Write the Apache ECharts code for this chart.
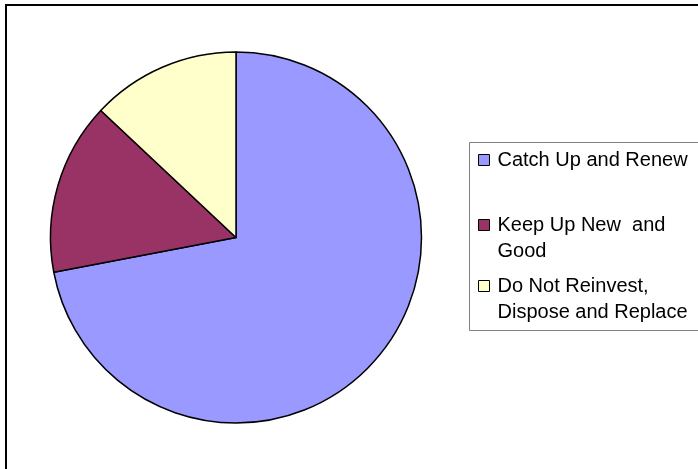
<!DOCTYPE html>
<html>
<head>
<meta charset="utf-8">
<title>Reinvestment strategy share</title>
<script src="https://cdn.jsdelivr.net/npm/echarts@6/dist/echarts.min.js"></script>
<style>
  html, body { margin: 0; padding: 0; background: #ffffff; }
  #chart { width: 698px; height: 469px; }
</style>
</head>
<body>
<div id="chart"></div>
<script>
// Strategy categories and their share of the portfolio (%)
const categories = ['Catch Up and Renew', 'Keep Up New and Good', 'Do Not Reinvest, Dispose and Replace'];
const shares = [72, 15, 13];
// Legend text as it wraps inside the legend box
const legendText = ['Catch Up and Renew', 'Keep Up New  and\nGood', 'Do Not Reinvest,\nDispose and Replace'];
const colors = ['#9999FF', '#993366', '#FFFFCC'];

const FONT = "'Liberation Sans', Arial, sans-serif";
const LH = 26;

const chart = echarts.init(document.getElementById('chart'), null, { renderer: 'canvas' });

// One legend block per entry so each can sit at its own row in the box.
// Multi-line entries get a leading empty line so the swatch lines up with the first text line.
const legendTops = [147, 186, 247];
const legends = categories.map((name, i) => ({
  show: true,
  orient: 'vertical',
  left: 478,
  top: legendTops[i],
  padding: 0,
  itemWidth: 11,
  itemHeight: 11,
  icon: 'rect',
  selectedMode: false,
  data: [name],
  itemStyle: { borderColor: '#000000', borderWidth: 1 },
  textStyle: {
    fontFamily: FONT,
    fontSize: 20,
    color: '#000000',
    lineHeight: LH,
    padding: [0, 0, 0, 3]
  },
  formatter: function () {
    const t = legendText[i];
    return t.indexOf('\n') >= 0 ? '\n' + t : t;
  }
}));

chart.setOption({
  animation: false,
  backgroundColor: '#ffffff',
  color: colors,
  graphic: [
    {
      type: 'rect',
      shape: { x: 6, y: 5, width: 800, height: 600 },
      style: { fill: 'none', stroke: '#000000', lineWidth: 2 },
      silent: true
    },
    {
      type: 'rect',
      shape: { x: 469.5, y: 142.5, width: 300, height: 188 },
      style: { fill: '#ffffff', stroke: '#808080', lineWidth: 1 },
      silent: true,
      z: -1
    }
  ],
  legend: legends,
  series: [{
    type: 'pie',
    center: [236, 237.5],
    radius: 185.5,
    startAngle: 90,
    clockwise: true,
    label: { show: false },
    labelLine: { show: false },
    emphasis: { disabled: true },
    itemStyle: { borderColor: '#000000', borderWidth: 1.5 },
    data: categories.map((name, i) => ({ name: name, value: shares[i] }))
  }]
});
</script>
</body>
</html>
